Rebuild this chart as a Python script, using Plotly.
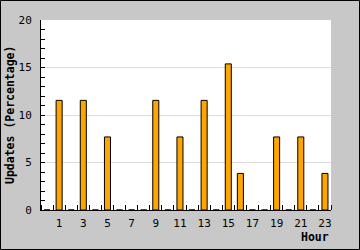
import plotly.graph_objects as go

hours = list(range(24))
updates_pct = [0, 11.54, 0, 11.54, 0, 7.69, 0, 0, 0, 11.54, 0, 7.69, 0, 11.54, 0, 15.38,
               3.85, 0, 0, 7.69, 0, 7.69, 0, 3.85]
x_tick_vals = list(range(1, 24, 2))
x_tick_text = [str(v) for v in x_tick_vals]
y_tick_vals = [0, 5, 10, 15, 20]

W, H = 360, 250
ML, MR, MT, MB = 41, 29, 20, 40
PW, PH = W - ML - MR, H - MT - MB

font = "DejaVu Sans Mono, monospace"

fig = go.Figure(go.Bar(
    x=hours, y=updates_pct, width=0.5,
    marker=dict(color="#ffa500", line=dict(color="black", width=1)),
))

fig.update_layout(
    width=W, height=H,
    margin=dict(l=ML, r=MR, t=MT, b=MB, pad=0),
    paper_bgcolor="#c8c8c8", plot_bgcolor="white",
    showlegend=False,
    font=dict(family=font, size=11, color="black"),
    xaxis=dict(
        range=[-0.5, 23.5], tickmode="array", tickvals=x_tick_vals, ticktext=x_tick_text,
        ticks="", showgrid=False, zeroline=False, showline=True, linecolor="black", linewidth=1,
        tickfont=dict(family=font, size=11), automargin=False, ticklabelstandoff=3,
        minor=dict(ticks="inside", tick0=0.5, dtick=1, ticklen=5, tickcolor="black", tickwidth=1, showgrid=False),
        fixedrange=True,
    ),
    yaxis=dict(
        range=[0, 20], tickmode="array", tickvals=y_tick_vals,
        ticks="inside", ticklen=4, tickcolor="black", showgrid=True, gridcolor="#dcdcdc",
        zeroline=False, showline=True, linecolor="black", linewidth=1,
        tickfont=dict(family=font, size=11), automargin=False, ticklabelstandoff=6,
        minor=dict(ticks="inside", dtick=1, ticklen=4, tickcolor="black", showgrid=False),
        fixedrange=True,
    ),
    annotations=[
        dict(text="<b>Hour</b>", xref="paper", yref="paper", x=1, y=0, xanchor="right", yanchor="top",
             yshift=-18, showarrow=False, font=dict(family=font, size=11.5)),
        dict(text="<b>Updates (Percentage)</b>", xref="paper", yref="paper",
             x=(10 - ML) / PW, y=0.5, xanchor="center", yanchor="middle", textangle=-90,
             showarrow=False, font=dict(family=font, size=11.5)),
    ],
    shapes=[dict(
        type="rect", xref="paper", yref="paper",
        x0=-(ML - 0.5) / PW, x1=1 + (MR - 0.5) / PW, y0=-(MB - 0.5) / PH, y1=1 + (MT - 0.5) / PH,
        line=dict(color="black", width=1), fillcolor="rgba(0,0,0,0)", layer="below",
    )],
)

fig.write_html("out.html", config={"displayModeBar": False})
